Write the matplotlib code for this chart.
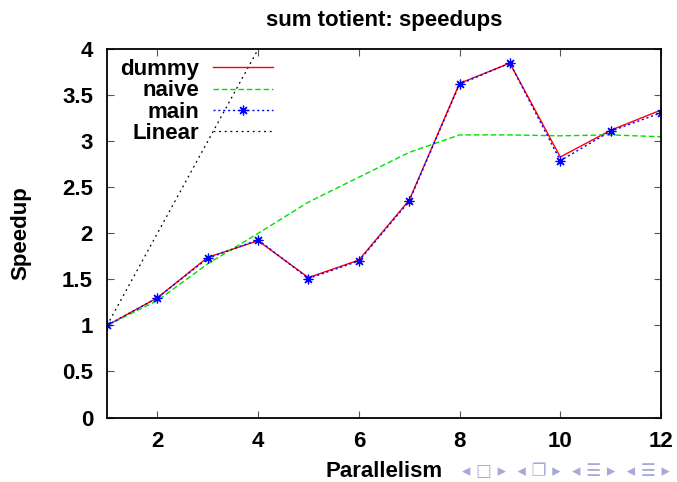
import matplotlib
matplotlib.use("Agg")
import matplotlib.pyplot as plt

parallelism = [1, 2, 3, 4, 5, 6, 7, 8, 9, 10, 11, 12]
dummy = [1.0, 1.30, 1.74, 1.92, 1.52, 1.71, 2.36, 3.63, 3.85, 2.83, 3.12, 3.34]
naive = [1.0, 1.27, 1.67, 2.00, 2.34, 2.61, 2.88, 3.07, 3.07, 3.06, 3.07, 3.05]
main = [1.0, 1.30, 1.73, 1.93, 1.51, 1.70, 2.35, 3.62, 3.85, 2.79, 3.11, 3.31]
linear_x = [1, 2, 3, 4]
linear_y = [1, 2, 3, 4]

xticks = [2, 4, 6, 8, 10, 12]
yticks = [0, 0.5, 1, 1.5, 2, 2.5, 3, 3.5, 4]
ytick_labels = ["0", "0.5", "1", "1.5", "2", "2.5", "3", "3.5", "4"]

plt.rcParams['font.family'] = ['Liberation Sans', 'DejaVu Sans']
plt.rcParams['font.weight'] = 'bold'

FS = 16

fig = plt.figure(figsize=(6.77, 4.82), dpi=100)
ax = fig.add_axes([107/677, (482-417.5)/482, 554/677, 368.2/482])

ax.plot(parallelism, dummy, color='#ff0000', lw=1.0, label='dummy')
ax.plot(parallelism, naive, color='#00e000', lw=1.0, ls=(0, (4, 2)), label='naive')
ax.plot(parallelism, main, color='#0000ff', lw=1.0, ls=(0, (1.5, 2)),
        marker=(8, 2, 0), markersize=7, markeredgewidth=0.9, label='main')
ax.plot(linear_x, linear_y, color='black', lw=0.9, ls=(0, (1.5, 3)), label='Linear')

ax.set_xlim(1, 12)
ax.set_ylim(0, 4)
ax.set_xticks(xticks)
ax.set_xticklabels([str(t) for t in xticks], fontsize=FS, fontweight='bold')
ax.set_yticks(yticks)
ax.set_yticklabels(ytick_labels, fontsize=FS, fontweight='bold')
ax.tick_params(direction='in', length=5, width=0.8, color='#555555',
               top=True, right=True)
ax.tick_params(axis='y', pad=10)
ax.tick_params(axis='x', pad=10)
for s in ax.spines.values():
    s.set_linewidth(1.3)

ax.set_title('sum totient: speedups', fontsize=FS, fontweight='bold', pad=17)
ax.set_xlabel('Parallelism', fontsize=FS, fontweight='bold', labelpad=6)
ax.set_ylabel('Speedup', fontsize=FS, fontweight='bold', labelpad=22)

leg = ax.legend(loc='upper left', bbox_to_anchor=(0.004, 1.004), frameon=False,
                markerfirst=False, handlelength=2.7, handletextpad=0.63,
                labelspacing=0.02, borderpad=0,
                prop={'size': FS, 'weight': 'bold'})

fig.text(0.683, 0.012, '\u25c2 \u25a1 \u25b8  \u25c2 \u2750 \u25b8  \u25c2 \u2630 \u25b8  \u25c2 \u2630 \u25b8',
         color='#a8a8d8', fontsize=12, family=['DejaVu Sans'])

fig.savefig('out.png', dpi=100)
